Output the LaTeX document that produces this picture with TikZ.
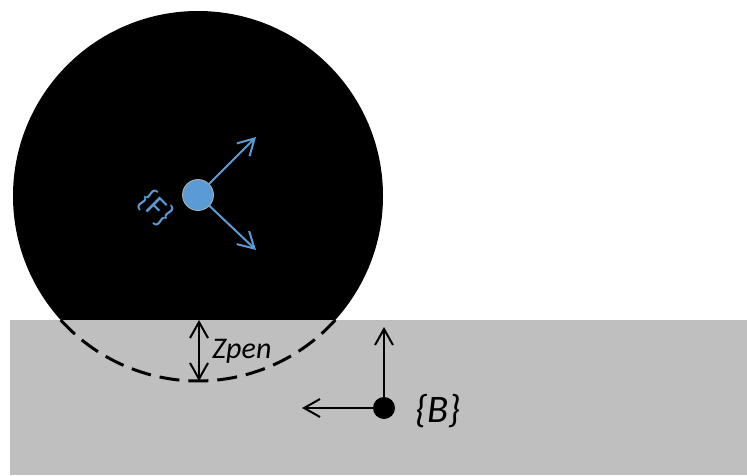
\documentclass[tikz,border=0pt]{standalone}
\usepackage{fontspec}
\setmainfont{Carlito}
\usepackage{tikz}
\usetikzlibrary{positioning,arrows.meta}
\definecolor{ground}{HTML}{BFBFBF}
\definecolor{frameblue}{HTML}{5B9BD5}

\begin{document}
\begin{tikzpicture}[
x=1pt, y=1pt,
barb/.style={-{Straight Barb[length=16pt, width=18pt, line width=2pt]}, line width=2.4pt},
barbblue/.style={barb, frameblue, line width=2pt},
dot/.style={circle, inner sep=0pt, minimum size=#1},
lbl/.style={font=\itshape\fontsize{30}{33}\selectfont, inner sep=0pt}
]
\useasboundingbox (0,0) rectangle (747,475);
% wheel and ground
\fill[black] (198,279) circle (185);
\fill[ground] (10,0) rectangle (747,155);
\draw[line width=3pt, dash pattern=on 20pt off 9pt] (198,279) ++(222.1:185) arc (222.1:317.9:185);
% frame F
\node[dot=31pt, fill=frameblue, draw=gray!60, line width=0.8pt] (F) at (198,280) {};
\coordinate (Fx) at (256,338);
\coordinate (Fy) at (256,225);
\draw[barbblue] (F) -- (Fx);
\draw[barbblue] (F) -- (Fy);
\node[font=\fontsize{31}{33}\selectfont, text=frameblue, rotate=-45, inner sep=0pt] (Flbl) at (156,267) {\{F\}};
% penetration
\coordinate (top) at (199,155);
\coordinate (bot) at (199,94);
\draw[barb, {Straight Barb[length=16pt, width=18pt, line width=2pt]}-{Straight Barb[length=16pt, width=18pt, line width=2pt]}] (top) -- (bot);
\node[lbl, anchor=west] (zpen) at (212,124) {Zpen};
% frame B
\node[dot=22pt, fill=black] (B) at (384,67) {};
\coordinate (Bz) at (384,148);
\coordinate (By) at (302,67);
\draw[barb] (B.center) -- (Bz);
\draw[barb] (B) -- (By);
\node[lbl, font=\itshape\fontsize{39}{42}\selectfont, anchor=west] (Blbl) at (415,64) {\{B\}};
\end{tikzpicture}
\end{document}
